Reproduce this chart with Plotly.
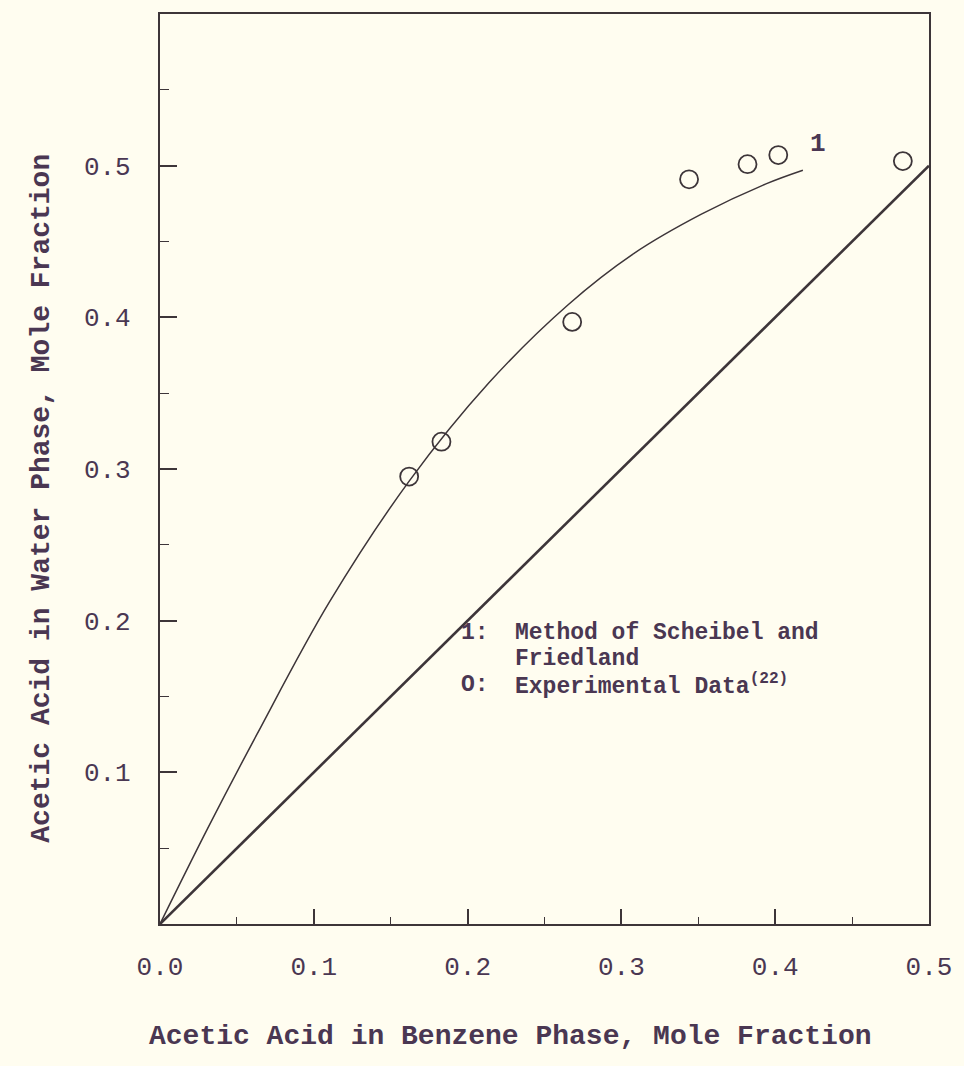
import plotly.graph_objects as go

# Experimental equilibrium data, acetic acid distribution (ref. 22)
exp_benzene = [0.162, 0.183, 0.268, 0.344, 0.382, 0.402, 0.483]
exp_water = [0.295, 0.318, 0.397, 0.491, 0.501, 0.507, 0.503]

# Curve 1: method of Scheibel and Friedland
calc_benzene = [0.0, 0.031, 0.063, 0.110, 0.162, 0.214, 0.265, 0.308, 0.352, 0.394, 0.418]
calc_water = [0.0, 0.063, 0.125, 0.212, 0.292, 0.357, 0.408, 0.442, 0.468, 0.488, 0.497]

# 45-degree reference line
diag_x = [0.0, 0.5]
diag_y = [0.0, 0.5]

x_ticks = [0.0, 0.1, 0.2, 0.3, 0.4, 0.5]
x_labels = ["0.0", "0.1", "0.2", "0.3", "0.4", "0.5"]
y_ticks = [0.1, 0.2, 0.3, 0.4, 0.5]
y_labels = ["0.1", "0.2", "0.3", "0.4", "0.5"]

PAPER = "#fffdf0"
INK = "#3d3539"
TYPE = "#4a3752"
FONT = "Liberation Mono, Courier New, monospace"

fig = go.Figure()

fig.add_trace(go.Scatter(x=diag_x, y=diag_y, mode="lines",
                         line=dict(color=INK, width=2.6), hoverinfo="skip"))
fig.add_trace(go.Scatter(x=calc_benzene, y=calc_water, mode="lines",
                         line=dict(color=INK, width=1.5, shape="spline", smoothing=1.0)))
fig.add_trace(go.Scatter(x=exp_benzene, y=exp_water, mode="markers",
                         marker=dict(symbol="circle-open", size=18, color=INK,
                                     line=dict(width=1.8, color=INK))))

axis_common = dict(showline=True, linecolor=INK, linewidth=2.2, mirror=True,
                   showgrid=False, zeroline=False, ticks="inside",
                   tickcolor=INK, tickwidth=1.5,
                   tickfont=dict(family=FONT, size=26, color=TYPE))

fig.update_xaxes(range=[0, 0.5], tickvals=x_ticks, ticktext=x_labels, ticklen=15,
                 ticklabelstandoff=18,
                 minor=dict(tickvals=[0.05, 0.15, 0.25, 0.35, 0.45], ticklen=7,
                            ticks="inside", tickcolor=INK, tickwidth=1.3),
                 **axis_common)
fig.update_yaxes(range=[0, 0.6], tickvals=y_ticks, ticktext=y_labels, ticklen=17,
                 ticklabelstandoff=22,
                 minor=dict(tickvals=[0.05, 0.15, 0.25, 0.35, 0.45, 0.55], ticklen=9,
                            ticks="inside", tickcolor=INK, tickwidth=1.3),
                 **axis_common)

title_font = dict(family=FONT, size=28, color=TYPE, weight="bold")
legend_font = dict(family=FONT, size=23, color=TYPE, weight="bold")

# key text, one annotation per typed line
key_lines = [
    (0.1941, 0.1921, "1:"),
    (0.2294, 0.1921, "Method of Scheibel and"),
    (0.2294, 0.1750, "Friedland"),
    (0.1941, 0.1579, "O:"),
    (0.2294, 0.1579, "Experimental Data<sup>(22)</sup>"),
]

annotations = [
    dict(text="Acetic Acid in Benzene Phase, Mole Fraction", xref="paper", yref="paper",
         x=0.456, y=-0.124, showarrow=False, font=title_font, xanchor="center", yanchor="middle"),
    dict(text="Acetic Acid in Water Phase, Mole Fraction", xref="paper", yref="paper",
         x=-0.154, y=0.468, showarrow=False, font=title_font, textangle=-90,
         xanchor="center", yanchor="middle"),
    dict(text="1", x=0.428, y=0.514, xref="x", yref="y", showarrow=False,
         font=dict(family=FONT, size=26, color=TYPE, weight="bold")),
]
for kx, ky, ktext in key_lines:
    annotations.append(dict(text=ktext, x=kx, y=ky, xref="x", yref="y", showarrow=False,
                            font=legend_font, xanchor="left", yanchor="middle"))

fig.update_layout(width=964, height=1066, paper_bgcolor=PAPER, plot_bgcolor=PAPER,
                  margin=dict(l=160, r=26, t=12, b=142), showlegend=False,
                  annotations=annotations)

fig.write_html("out.html")
